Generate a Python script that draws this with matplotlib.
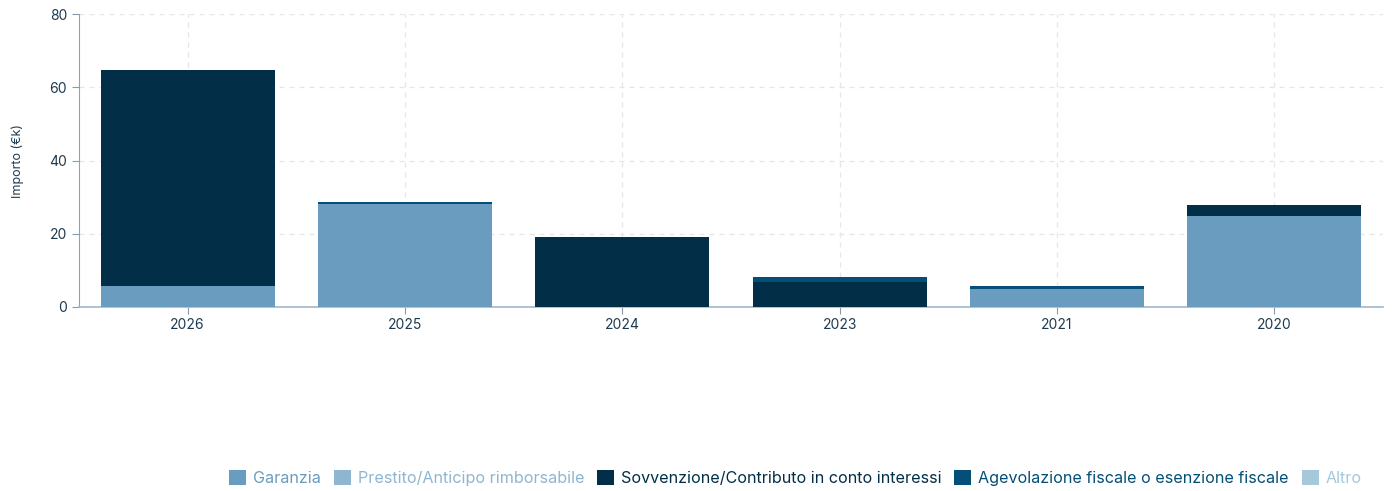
import matplotlib
matplotlib.use("Agg")
import matplotlib.pyplot as plt
import numpy as np

plt.rcParams['font.family'] = ['Inter', 'DejaVu Sans']

years = ["2026", "2025", "2024", "2023", "2021", "2020"]
series_names = ["Garanzia", "Prestito/Anticipo rimborsabile",
                "Sovvenzione/Contributo in conto interessi",
                "Agevolazione fiscale o esenzione fiscale", "Altro"]
garanzia = [5.7, 28.1, 0.0, 0.0, 4.9, 24.8]
prestito = [0.0, 0.0, 0.0, 0.0, 0.0, 0.0]
sovvenzione = [59.0, 0.0, 19.1, 6.7, 0.0, 3.0]
agevolazione = [0.0, 0.7, 0.0, 1.4, 0.7, 0.0]
altro = [0.0, 0.0, 0.0, 0.0, 0.0, 0.0]

colors = ["#6a9cbf", "#8eb6d1", "#022f47", "#034f78", "#a5c8db"]
data = [garanzia, prestito, sovvenzione, agevolazione, altro]

fig = plt.figure(figsize=(13.95, 4.91), dpi=100)
ax = fig.add_axes([79/1395, 1-307/491, (1383-79)/1395, (307-14)/491])

x = np.arange(len(years))
bottom = np.zeros(len(years))
handles = []
for name, vals, c in zip(series_names, data, colors):
    vals = np.array(vals)
    b = ax.bar(x, vals, width=0.8, bottom=bottom, color=c, label=name, zorder=3)
    handles.append(b)
    bottom += vals

ax.set_xlim(-0.5, 5.5)
ax.set_ylim(0, 80)
ax.set_yticks([0, 20, 40, 60, 80])
ax.set_xticks(x)
ax.set_xticklabels(years)
ax.tick_params(axis='both', labelsize=10, colors="#8899aa", labelcolor="#1e3a4f", length=5)
ax.tick_params(axis='x', pad=3)
ax.grid(True, linestyle=(0, (4, 4)), color="#e6e6e6", linewidth=0.9, zorder=0)
for s in ["top", "right"]:
    ax.spines[s].set_visible(False)
ax.spines["left"].set_color("#8aa4bd")
ax.spines["bottom"].set_color("#9fb8cc")
ax.spines["bottom"].set_linewidth(1.2)
ax.set_ylabel("Importo (€k)", fontsize=9, color="#1e3a4f", labelpad=18)

leg = fig.legend(handles=handles, labels=series_names, loc="center right",
                 bbox_to_anchor=(1368/1395, 1-478/491), ncol=5, frameon=False,
                 fontsize=11.6, handlelength=1.05, handleheight=1.05,
                 handletextpad=0.43, columnspacing=0.8, borderaxespad=0)
for t, c in zip(leg.get_texts(), colors):
    t.set_color(c)

fig.savefig("out.png", dpi=100)
